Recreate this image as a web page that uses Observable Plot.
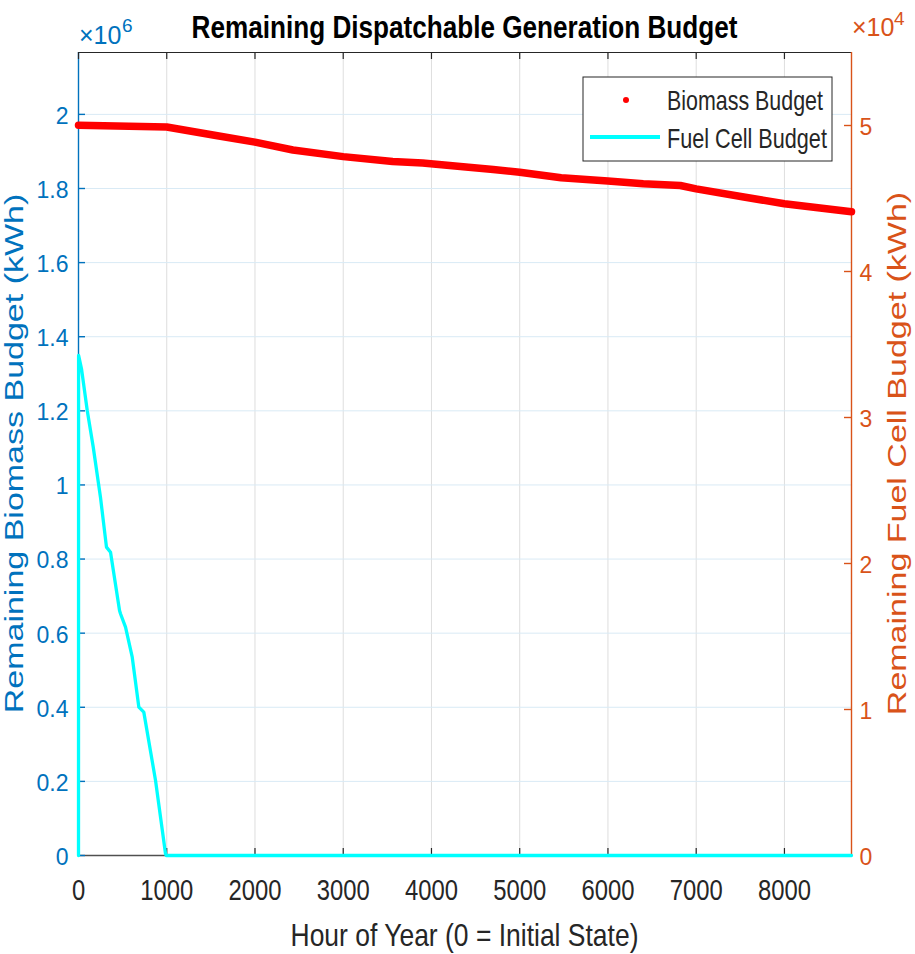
<!DOCTYPE html>
<html>
<head>
<meta charset="utf-8">
<script src="https://cdn.jsdelivr.net/npm/d3@7"></script>
<script src="https://cdn.jsdelivr.net/npm/@observablehq/plot@0.6"></script>
<style>
  html, body { margin: 0; padding: 0; background: #fff; }
  #chart { width: 915px; height: 954px; }
</style>
</head>
<body>
<div id="chart"></div>
<script>
// ---- data ----
const biomassHour = [0, 1000, 1558, 2000, 2430, 3000, 3560, 3900, 4390, 4700, 5000, 5470, 6000, 6400, 6820, 7000, 7540, 8000, 8760];
const biomassKWh  = [1971000, 1966000, 1943000, 1925000, 1904000, 1886000, 1873000, 1869000, 1858000, 1851000, 1844000, 1829000, 1820000, 1813000, 1808000, 1799000, 1777000, 1759000, 1737000];

const fuelHour = [0, 1, 34, 99, 167, 249, 317, 363, 465, 476, 533, 609, 684, 740, 873, 986, 995, 8760];
const fuelKWh  = [0, 34250, 33340, 30480, 27970, 24540, 21120, 20770, 16780, 16560, 15640, 13580, 10160, 9820, 5140, 120, 0, 0];

const xTicks = [0, 1000, 2000, 3000, 4000, 5000, 6000, 7000, 8000];
const xTickLabels = ["0", "1000", "2000", "3000", "4000", "5000", "6000", "7000", "8000"];
const leftTicks = [0, 200000, 400000, 600000, 800000, 1000000, 1200000, 1400000, 1600000, 1800000, 2000000];
const leftTickLabels = ["0", "0.2", "0.4", "0.6", "0.8", "1", "1.2", "1.4", "1.6", "1.8", "2"];
const rightTicks = [0, 10000, 20000, 30000, 40000, 50000];
const rightTickLabels = ["0", "1", "2", "3", "4", "5"];

const xMax = 8760;
const leftMax = 2167000;
const rightMax = 55000;

const titleText = "Remaining Dispatchable Generation Budget";
const xLabel = "Hour of Year (0 = Initial State)";
const leftLabel = "Remaining Biomass Budget (kWh)";
const rightLabel = "Remaining Fuel Cell Budget (kWh)";
const legendLabels = ["Biomass Budget", "Fuel Cell Budget"];

// ---- styling ----
const BLUE = "#0072BD", ORANGE = "#D95319", DARK = "#262626";
const SANS = "'Liberation Sans', Arial, Helvetica, sans-serif";

const biomass = biomassHour.map((h, i) => ({h, v: biomassKWh[i]}));
const fuel = fuelHour.map((h, i) => ({h, v: fuelKWh[i]}));
const k = leftMax / rightMax; // right axis -> left axis units

const W = 915, H = 954, mL = 78, mR = 64, mT = 52, mB = 99;
const pw = W - mL - mR, ph = H - mT - mB;
const tick = 7;

const plot = Plot.plot({
  width: W, height: H,
  marginLeft: mL, marginRight: mR, marginTop: mT, marginBottom: mB,
  x: {domain: [0, xMax], axis: null},
  y: {domain: [0, leftMax], axis: null},
  style: {background: "white", fontFamily: SANS, overflow: "visible"},
  marks: [
    // grid
    Plot.ruleX(xTicks, {x: d => d, stroke: "#dedede", strokeWidth: 1}),
    Plot.ruleY(leftTicks, {y: d => d, stroke: "#d9eaf5", strokeWidth: 1}),
    // axes lines
    Plot.ruleY([leftMax], {y: d => d, stroke: DARK, strokeWidth: 1.2}),
    Plot.ruleY([0], {y: d => d, stroke: "#505050", strokeWidth: 1.6}),
    Plot.ruleX([0], {x: d => d, stroke: BLUE, strokeWidth: 1.4}),
    Plot.ruleX([xMax], {x: d => d, stroke: ORANGE, strokeWidth: 1.4}),
    // ticks (inward)
    Plot.tickX(xTicks, {x: d => d, stroke: DARK, strokeWidth: 1.2, insetTop: ph - tick}),
    Plot.tickX(xTicks, {x: d => d, stroke: DARK, strokeWidth: 1.2, insetBottom: ph - tick}),
    Plot.tickY(leftTicks, {y: d => d, stroke: BLUE, strokeWidth: 1.4, insetRight: pw - tick}),
    Plot.tickY(rightTicks, {y: d => d * k, stroke: ORANGE, strokeWidth: 1.4, insetLeft: pw - tick}),
    // tick labels
    Plot.text(xTicks, {x: d => d, text: (d, i) => xTickLabels[i], frameAnchor: "bottom", lineAnchor: "top",
      dy: 23, fontSize: 30, fontFamily: SANS, fill: DARK}),
    Plot.text(leftTicks, {y: d => d, text: (d, i) => leftTickLabels[i], frameAnchor: "left", textAnchor: "end",
      dx: -10, dy: 2, fontSize: 23, fontFamily: SANS, fill: BLUE}),
    Plot.text(rightTicks, {y: d => d * k, text: (d, i) => rightTickLabels[i], frameAnchor: "right", textAnchor: "start",
      dx: 8, dy: 2, fontSize: 23, fontFamily: SANS, fill: ORANGE}),
    // data
    Plot.line(biomass, {x: "h", y: "v", stroke: "#ff0000", strokeWidth: 7.5, strokeLinecap: "round", strokeLinejoin: "round"}),
    Plot.line(fuel, {x: "h", y: d => d.v * k, stroke: "#00ffff", strokeWidth: 3.3, strokeLinejoin: "round"})
  ]
});

document.getElementById("chart").appendChild(plot);

// ---- horizontal squeeze of x tick labels (reference uses a condensed look) ----
function squeeze(node, s) {
  const t = node.getAttribute("transform");
  if (t) {
    node.setAttribute("transform", t + ` scale(${s},1)`);
  } else {
    const x = +node.getAttribute("x") || 0, y = +node.getAttribute("y") || 0;
    node.removeAttribute("x"); node.removeAttribute("y");
    node.setAttribute("transform", `translate(${x},${y}) scale(${s},1)`);
  }
}
const textGroups = plot.querySelectorAll('g[aria-label="text"]');
if (textGroups.length) {
  const xt = Array.from(textGroups[0].querySelectorAll("text"));
  const ref = xt.find(n => n.textContent === "1000");
  const s = ref ? 53 / ref.getComputedTextLength() : 0.8;
  xt.forEach(n => squeeze(n, s));
}

// ---- decorations: title, axis labels, exponents, legend ----
const svg = d3.select(plot);
const cx = mL + pw / 2, cy = mT + ph / 2;

function fitted(x, y, str, size, target, anchor, weight, fill) {
  const t = svg.append("text").attr("text-anchor", anchor)
    .attr("font-family", SANS).attr("font-size", size).attr("font-weight", weight).attr("fill", fill)
    .text(str);
  const len = t.node().getComputedTextLength() || target;
  t.attr("transform", `translate(${x},${y}) scale(${target / len},1)`);
  return t;
}

fitted(cx, 38, titleText, 32, 546, "middle", "bold", "#000");
fitted(cx, 946, xLabel, 32, 348, "middle", "normal", DARK);

svg.append("text").attr("transform", `translate(23,${cy}) rotate(-90) scale(1,0.75)`).attr("text-anchor", "middle")
  .attr("font-family", SANS).attr("font-size", 34).attr("fill", BLUE)
  .text(leftLabel);

svg.append("text").attr("transform", `translate(906,${cy}) rotate(-90) scale(1,0.75)`).attr("text-anchor", "middle")
  .attr("font-family", SANS).attr("font-size", 34).attr("fill", ORANGE)
  .text(rightLabel);

// exponent labels
svg.append("text").attr("x", 79).attr("y", 44).attr("text-anchor", "start").attr("font-family", SANS).attr("font-size", 25).attr("fill", BLUE).text("\u00d710");
svg.append("text").attr("x", 122).attr("y", 32).attr("text-anchor", "start").attr("font-family", SANS).attr("font-size", 19).attr("fill", BLUE).text("6");
svg.append("text").attr("x", 852).attr("y", 36).attr("text-anchor", "start").attr("font-family", SANS).attr("font-size", 25).attr("fill", ORANGE).text("\u00d710");
svg.append("text").attr("x", 894).attr("y", 25).attr("text-anchor", "start").attr("font-family", SANS).attr("font-size", 19).attr("fill", ORANGE).text("4");

// legend
svg.append("rect").attr("x", 583).attr("y", 77).attr("width", 249).attr("height", 84)
  .attr("fill", "white").attr("stroke", DARK).attr("stroke-width", 1);
svg.append("circle").attr("cx", 626).attr("cy", 100).attr("r", 3).attr("fill", "#ff0000");
svg.append("line").attr("x1", 590).attr("x2", 660).attr("y1", 137).attr("y2", 137)
  .attr("stroke", "#00ffff").attr("stroke-width", 4);
fitted(667, 110, legendLabels[0], 27, 156, "start", "normal", DARK);
fitted(667, 148, legendLabels[1], 27, 160, "start", "normal", DARK);
</script>
</body>
</html>
